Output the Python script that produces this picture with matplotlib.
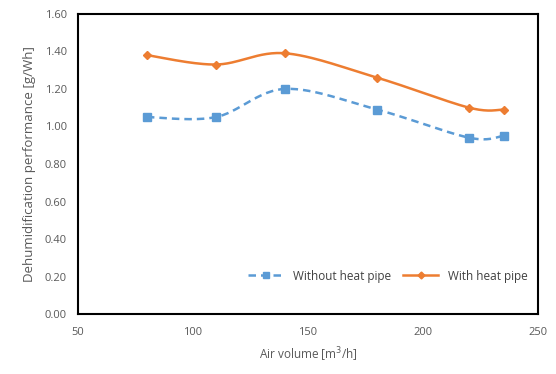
import numpy as np
import matplotlib.pyplot as plt

air = [80, 110, 140, 180, 220, 235]
without_hp = [1.05, 1.05, 1.20, 1.09, 0.94, 0.95]
with_hp = [1.38, 1.33, 1.39, 1.26, 1.10, 1.09]


def smooth(x, y, n=30):
    # Excel-like smoothed line (Catmull-Rom via cubic Bezier)
    x = np.asarray(x, float)
    y = np.asarray(y, float)
    px = np.concatenate([[x[0]], x, [x[-1]]])
    py = np.concatenate([[y[0]], y, [y[-1]]])
    xs, ys = [], []
    t = np.linspace(0, 1, n)
    for i in range(1, len(px) - 2):
        p0 = np.array([px[i], py[i]])
        p3 = np.array([px[i + 1], py[i + 1]])
        p1 = p0 + (np.array([px[i + 1], py[i + 1]]) - np.array([px[i - 1], py[i - 1]])) / 6
        p2 = p3 - (np.array([px[i + 2], py[i + 2]]) - np.array([px[i], py[i]])) / 6
        b = ((1 - t) ** 3)[:, None] * p0 + (3 * (1 - t) ** 2 * t)[:, None] * p1 \
            + (3 * (1 - t) * t ** 2)[:, None] * p2 + (t ** 3)[:, None] * p3
        xs.extend(b[:, 0])
        ys.extend(b[:, 1])
    return xs, ys


plt.rcParams['font.family'] = ['Open Sans', 'DejaVu Sans']
fig = plt.figure(figsize=(5.56, 3.74), dpi=100)
ax = fig.add_axes([0.140, 0.160, 0.828, 0.803])

blue = '#5B9BD5'
orange = '#ED7D31'

sx, sy = smooth(air, without_hp)
ax.plot(sx, sy, color=blue, lw=1.8, ls=(0, (3, 2)))
ax.plot(air, without_hp, ls='none', marker='s', ms=5.5, color=blue)
ax.plot([], [], color=blue, lw=1.8, ls=(0, (3, 2)), marker='s', ms=5, label='Without heat pipe')

sx, sy = smooth(air, with_hp)
ax.plot(sx, sy, color=orange, lw=1.8)
ax.plot(air, with_hp, ls='none', marker='D', ms=4.5, color=orange)
ax.plot([], [], color=orange, lw=1.8, marker='D', ms=3.5, label='With heat pipe')

ax.set_xlim(50, 250)
ax.set_ylim(0, 1.6)
ax.set_xticks(np.arange(50, 251, 50))
ax.set_yticks(np.arange(0, 1.61, 0.2))
ax.set_yticklabels(['%.2f' % v for v in np.arange(0, 1.61, 0.2)])
ax.tick_params(length=0, labelsize=8, colors='#595959')
ax.tick_params(axis='x', pad=9)
ax.tick_params(axis='y', pad=8)
for s in ax.spines.values():
    s.set_linewidth(1.5)
    s.set_color('black')

ax.set_xlabel('Air volume [m$^3$/h]', fontsize=8.5, color='#595959', labelpad=6)
ax.set_ylabel('Dehumidification performance [g/Wh]', fontsize=9.5, color='#595959', labelpad=6)

ax.legend(loc='lower right', bbox_to_anchor=(1.0, 0.07), ncol=2, frameon=False,
          fontsize=8.5, handlelength=3, columnspacing=1.0, labelcolor='#404040')

fig.savefig('out.png', dpi=100)
